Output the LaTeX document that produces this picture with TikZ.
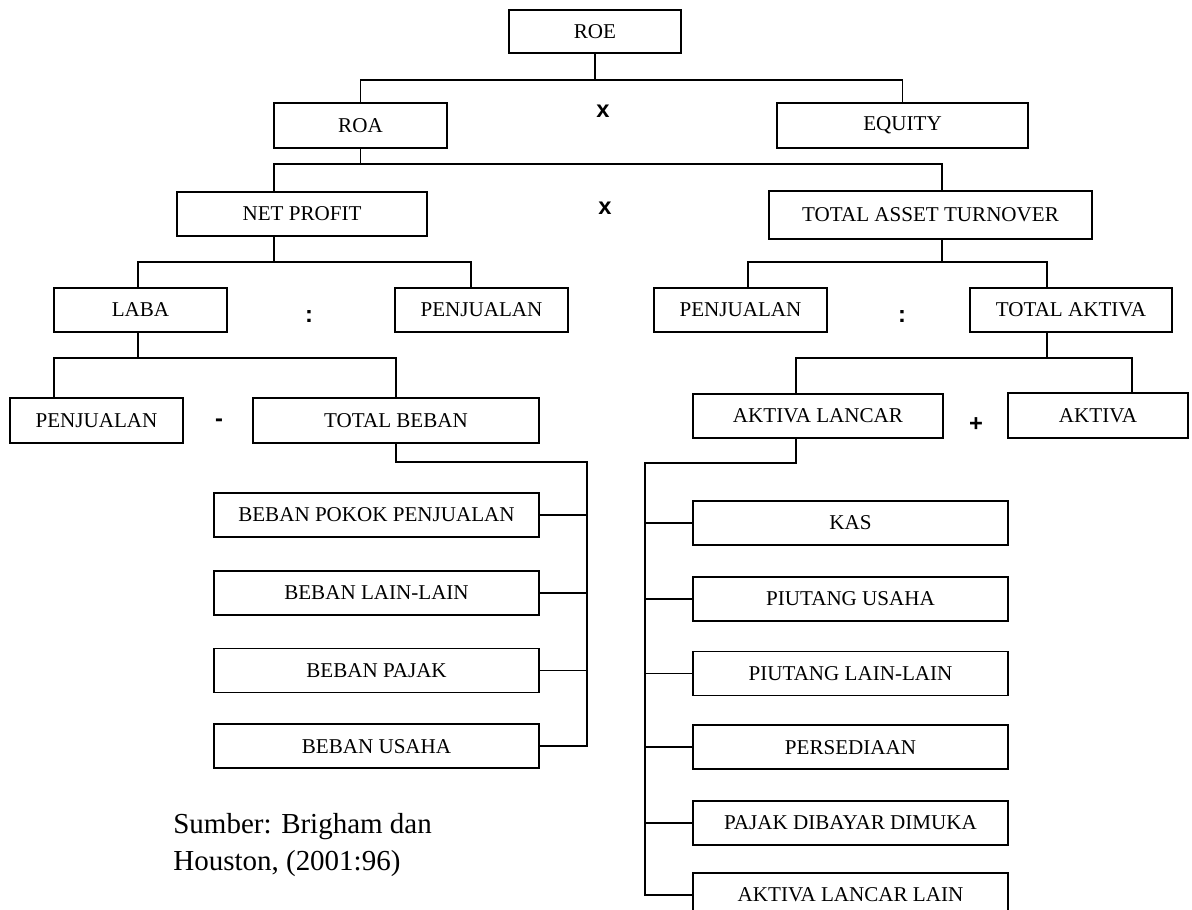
\documentclass[tikz,border=0pt]{standalone}
\usepackage{fontspec}
\setmainfont{Liberation Serif}
\newfontfamily\opfont{Liberation Sans}
\usetikzlibrary{positioning}

\tikzset{
  box/.style={draw, line width=1pt, inner sep=0pt, minimum height=0.88cm, font=\fontsize{12}{14}\selectfont},
  op/.style={inner sep=0pt, font=\opfont\bfseries\fontsize{13.5}{15}\selectfont},
  conn/.style={line width=1pt},
}

\begin{document}
\begin{tikzpicture}[x=0.02cm, y=-0.02cm]
\useasboundingbox (0,0) rectangle (1192,909);
\clip (0,0) rectangle (1192,909);

% ROE = ROA x EQUITY
\node[box, minimum width=3.44cm, minimum height=0.86cm] (roe) at (595,31.5) {ROE};
\node[box, minimum width=3.46cm, minimum height=0.9cm] (roa) at (360.5,125.5) {ROA};
\node[box, minimum width=5.02cm, minimum height=0.9cm] (equity) at (902.5,125.5) {EQUITY};
\node[op] (x1) at (603,111) {x};
\draw[conn] (roe.south) -- ++(0,26) -| (roa.north);
\draw[conn] (roe.south) -- ++(0,26) -| (equity.north);

% ROA = NET PROFIT x TOTAL ASSET TURNOVER
\node[box, minimum width=5cm] (np) at (302,214) {NET PROFIT};
\node[box, minimum width=6.46cm, minimum height=0.96cm] (tat) at (930.5,215) {TOTAL ASSET TURNOVER};
\node[op] (x2) at (605,208) {x};
\coordinate (npin) at (274,164);
\coordinate (tatin) at (942,164);
\draw[conn] (roa.south) -- (roa.south |- npin);
\draw[conn] (npin |- np.north) -- (npin) -- (tatin) -- (tatin |- tat.north);

% NET PROFIT = LABA : PENJUALAN
\node[box, minimum width=3.46cm] (laba) at (140.5,310) {LABA};
\node[box, minimum width=3.46cm] (penj1) at (481.5,310) {PENJUALAN};
\node[op] (d1) at (309,317) {:};
\coordinate (labain) at (138,262);
\coordinate (penj1in) at (471,262);
\draw[conn] (np.south -| npin) -- (labain -| npin);
\draw[conn] (labain |- laba.north) -- (labain) -- (penj1in) -- (penj1in |- penj1.north);

% TOTAL ASSET TURNOVER = PENJUALAN : TOTAL AKTIVA
\node[box, minimum width=3.46cm] (penj2) at (740.5,310) {PENJUALAN};
\node[box, minimum width=4.04cm] (totakt) at (1071,310) {TOTAL AKTIVA};
\node[op] (d2) at (902,317) {:};
\coordinate (penj2in) at (748,262);
\coordinate (totaktin) at (1047,262);
\draw[conn] (tat.south -| tatin) -- (tatin |- penj2in);
\draw[conn] (penj2in |- penj2.north) -- (penj2in) -- (totaktin) -- (totaktin |- totakt.north);

% LABA = PENJUALAN - TOTAL BEBAN
\node[box, minimum width=3.46cm, minimum height=0.9cm] (penj3) at (96.5,420.5) {PENJUALAN};
\node[box, minimum width=5.72cm, minimum height=0.9cm] (totbeb) at (396,420.5) {TOTAL BEBAN};
\node[op] (m1) at (219,423) {-};
\coordinate (penj3in) at (54,358);
\draw[conn] (laba.south -| labain) -- (labain |- penj3in);
\draw[conn] (penj3in |- penj3.north) -- (penj3in) -| (totbeb.north);

% TOTAL AKTIVA = AKTIVA LANCAR + AKTIVA
\node[box, minimum width=5cm] (aktlan) at (818,416) {AKTIVA LANCAR};
\node[box, minimum width=3.6cm, minimum height=0.9cm] (aktiva) at (1098,415.5) {AKTIVA};
\node[op] (p1) at (976,425) {+};
\coordinate (aktlanin) at (796,358);
\coordinate (aktivain) at (1132,358);
\draw[conn] (totakt.south -| totaktin) -- (totaktin |- aktlanin);
\draw[conn] (aktlanin |- aktlan.north) -- (aktlanin) -- (aktivain) -- (aktivain |- aktiva.north);

% rincian total beban
\node[box, minimum width=6.5cm] (bpp) at (376.5,515) {BEBAN POKOK PENJUALAN};
\node[box, minimum width=6.5cm, below=0.64cm of bpp] (bll) {BEBAN LAIN-LAIN};
\node[box, minimum width=6.5cm, below=0.64cm of bll] (bp) {BEBAN PAJAK};
\node[box, minimum width=6.5cm, below=0.6cm of bp] (bu) {BEBAN USAHA};
\coordinate (bebanbus) at (587,462);
\draw[conn] (totbeb.south) |- (bebanbus) |- (bu.east);
\foreach \n in {bpp,bll,bp} \draw[conn] (\n.east) -- (\n.east -| bebanbus);

% rincian aktiva lancar
\node[box, minimum width=6.3cm] (kas) at (850.5,523) {KAS};
\node[box, minimum width=6.3cm, below=0.6cm of kas] (pu) {PIUTANG USAHA};
\node[box, minimum width=6.3cm, below=0.58cm of pu] (pll) {PIUTANG LAIN-LAIN};
\node[box, minimum width=6.3cm, below=0.56cm of pll] (pers) {PERSEDIAAN};
\node[box, minimum width=6.3cm, below=0.6cm of pers] (pdd) {PAJAK DIBAYAR DIMUKA};
\node[box, minimum width=6.3cm, below=0.52cm of pdd] (alain) {AKTIVA LANCAR LAIN};
\coordinate (lancarbus) at (645,463);
\draw[conn] (aktlan.south -| aktlanin) |- (lancarbus) |- (alain.west);
\foreach \n in {kas,pu,pll,pers,pdd} \draw[conn] (\n.west) -- (\n.west -| lancarbus);

% sumber
\node[anchor=north west, inner sep=0pt, align=left, font=\fontsize{16.5}{21}\selectfont] (sumber) at (173,813) {Sumber: Brigham dan\\Houston, (2001:96)};
\end{tikzpicture}
\end{document}
